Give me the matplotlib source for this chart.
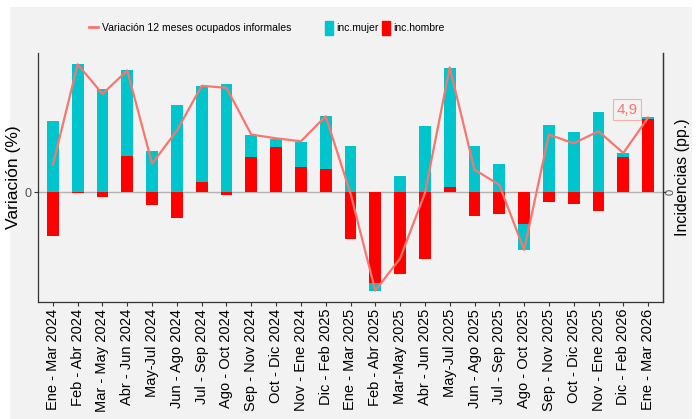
import numpy as np
import matplotlib.pyplot as plt
from matplotlib.patches import Rectangle, Patch
from matplotlib.lines import Line2D

# datos
periodos = ["Ene - Mar 2024", "Feb - Abr 2024", "Mar - May 2024", "Abr - Jun 2024",
            "May-Jul 2024", "Jun - Ago 2024", "Jul - Sep 2024", "Ago - Oct 2024",
            "Sep - Nov 2024", "Oct - Dic 2024", "Nov - Ene 2024", "Dic - Feb 2025",
            "Ene - Mar 2025", "Feb - Abr 2025", "Mar-May 2025", "Abr - Jun 2025",
            "May-Jul 2025", "Jun - Ago 2025", "Jul - Sep 2025", "Ago - Oct 2025",
            "Sep - Nov 2025", "Oct - Dic 2025", "Nov - Ene 2025", "Dic - Feb 2026",
            "Ene - Mar 2026"]
inc_mujer = [4.66, 8.40, 6.79, 5.63, 2.73, 5.74, 6.31, 7.08, 1.49, 0.57, 1.65, 3.50,
             3.01, -0.48, 1.05, 4.35, 7.87, 3.03, 1.87, -1.69, 4.44, 3.98, 5.25, 0.26, 0.11]
inc_hombre = [-2.92, -0.03, -0.35, 2.37, -0.84, -1.71, 0.64, -0.20, 2.29, 2.95, 1.67, 1.49,
              -3.10, -6.00, -5.41, -4.42, 0.31, -1.56, -1.41, -2.11, -0.64, -0.77, -1.27, 2.31, 4.84]
variacion = [1.80, 8.40, 6.46, 8.00, 1.87, 4.05, 6.99, 6.86, 3.78, 3.54, 3.34, 4.99,
             -0.09, -6.48, -4.36, -0.07, 8.20, 1.47, 0.48, -3.80, 3.78, 3.21, 4.00, 2.57, 4.90]

CYAN = "#00C5CD"
RED = "#FF0000"
SALMON = "#F8766D"
BG = "#F2F2F2"

plt.rcParams['font.family'] = ['Liberation Sans', 'DejaVu Sans']

fig = plt.figure(figsize=(6.97, 4.19), dpi=100, facecolor="white")
# fondo gris (detras de todo)
fig.patches.append(Rectangle((10 / 697, 0), 682 / 697, 1 - 7 / 419,
                             transform=fig.transFigure, facecolor=BG,
                             edgecolor="none", zorder=-10))

ax = fig.add_axes([38 / 697, 1 - 302 / 419, 625 / 697, 249 / 419])
ax.set_facecolor(BG)

x = np.arange(len(periodos))
h = np.array(inc_hombre)
m = np.array(inc_mujer)
# el aporte de hombres va pegado al cero, el de mujeres se apila encima
base_m = np.where(np.sign(m) == np.sign(h), h, 0)

ax.axhline(0, color="#B3B3B3", lw=1, zorder=1)
ax.bar(x, h, width=0.48, color=RED, zorder=2)
ax.bar(x, m, bottom=base_m, width=0.48, color=CYAN, zorder=2)
ax.plot(x, variacion, color=SALMON, lw=1.6, zorder=3)

ax.annotate("4,9", xy=(23.15, 5.43), ha="center", va="center", fontsize=11,
            color=SALMON,
            bbox=dict(boxstyle="square,pad=0.2", fc=BG, ec="#F4B0AA", lw=0.8))

ax.set_xlim(-0.6, len(periodos) - 0.4)
ax.set_ylim(-7.23, 9.15)
ax.set_xticks(x)
ax.set_xticklabels(periodos, rotation=90, fontsize=10.5)
ax.set_yticks([0])
ax.set_yticklabels(["0"], fontsize=9, color="#4D4D4D")
ax.tick_params(axis="x", length=3, color="#333333", pad=2)
ax.tick_params(axis="y", length=3, color="#333333", pad=2)
ax.set_ylabel("Variación (%)", fontsize=12.5, labelpad=2)

ax.spines["top"].set_visible(False)
for s in ["left", "bottom", "right"]:
    ax.spines[s].set_color("#333333")
    ax.spines[s].set_linewidth(0.9)

ax2 = ax.twinx()
ax2.set_ylim(ax.get_ylim())
ax2.set_yticks([0])
ax2.set_yticklabels(["0"], fontsize=8, color="#4D4D4D", rotation=90,
                    va="center", ha="left")
ax2.tick_params(axis="y", length=2, color="#333333", pad=0)
ax2.set_ylabel("Incidencias (pp.)", fontsize=11.5, rotation=90)
ax2.yaxis.label.set_va("center")
ax2.yaxis.set_label_coords(1.031, 0.5)
for s in ["top", "left", "bottom"]:
    ax2.spines[s].set_visible(False)
ax2.spines["right"].set_color("#333333")
ax2.spines["right"].set_linewidth(0.9)

leg_font = {"size": 7.5}
fig.legend(handles=[Line2D([0], [0], color=SALMON, lw=2)],
           labels=["Variación 12 meses ocupados informales"],
           loc="center", bbox_to_anchor=(190 / 697, 1 - 28 / 419), frameon=False,
           prop=leg_font, handlelength=0.9, handletextpad=0.4)
fig.legend(handles=[Patch(color=CYAN), Patch(color=RED)],
           labels=["inc.mujer", "inc.hombre"], ncol=2,
           loc="center", bbox_to_anchor=(385 / 697, 1 - 28 / 419), frameon=False,
           prop=leg_font, handlelength=0.8, handleheight=1.8, handletextpad=0.3,
           columnspacing=0.3)

fig.savefig("out.png", dpi=100, facecolor=fig.get_facecolor())
